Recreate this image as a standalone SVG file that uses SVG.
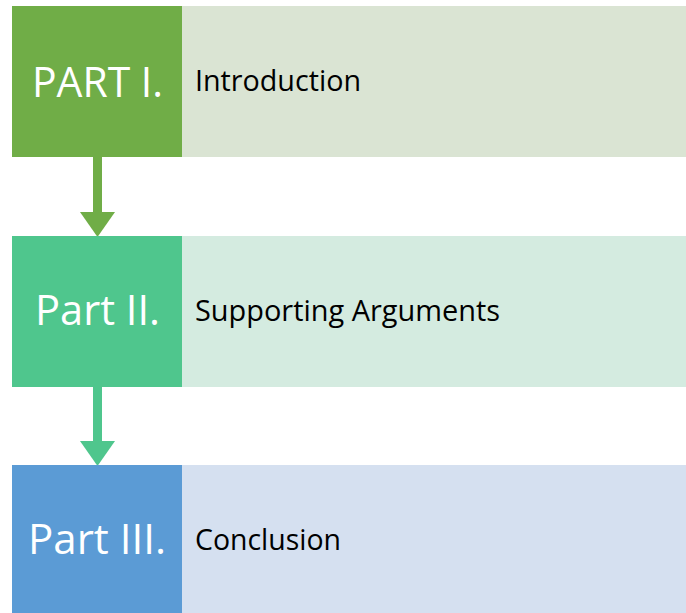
<svg xmlns="http://www.w3.org/2000/svg" width="686" height="613" viewBox="0 0 686 613">
<style>
.lbl{font-family:"Open Sans","Liberation Sans",sans-serif;font-size:42px;fill:#ffffff}
.txt{font-family:"Open Sans","Liberation Sans",sans-serif;font-size:28.5px;fill:#000000}
</style>
<rect width="686" height="613" fill="#ffffff"/>
<g id="connectors">
<rect x="93" y="157" width="9" height="56" fill="#70AD47"/>
<polygon points="80,212 115,212 97.5,237" fill="#70AD47"/>
<rect x="93" y="387" width="9" height="55" fill="#4FC68D"/>
<polygon points="80,441 115,441 97.5,466" fill="#4FC68D"/>
</g>
<g id="part1">
<rect x="182" y="6" width="504" height="151" fill="#DAE4D3"/>
<rect x="12" y="6" width="170" height="151" fill="#70AD47"/>
<text class="lbl" x="32" y="96.5" textLength="131" lengthAdjust="spacingAndGlyphs">PART I.</text>
<text class="txt" x="195" y="91" textLength="166" lengthAdjust="spacingAndGlyphs">Introduction</text>
</g>
<g id="part2">
<rect x="182" y="236" width="504" height="151" fill="#D4EBE0"/>
<rect x="12" y="236" width="170" height="151" fill="#4FC68D"/>
<text class="lbl" x="35" y="325" textLength="125" lengthAdjust="spacingAndGlyphs">Part II.</text>
<text class="txt" x="195" y="321" textLength="305" lengthAdjust="spacingAndGlyphs">Supporting Arguments</text>
</g>
<g id="part3">
<rect x="182" y="465" width="504" height="148" fill="#D5E0F0"/>
<rect x="12" y="465" width="170" height="148" fill="#5B9BD5"/>
<text class="lbl" x="28" y="554" textLength="138" lengthAdjust="spacingAndGlyphs">Part III.</text>
<text class="txt" x="195" y="550" textLength="146" lengthAdjust="spacingAndGlyphs">Conclusion</text>
</g>
</svg>
